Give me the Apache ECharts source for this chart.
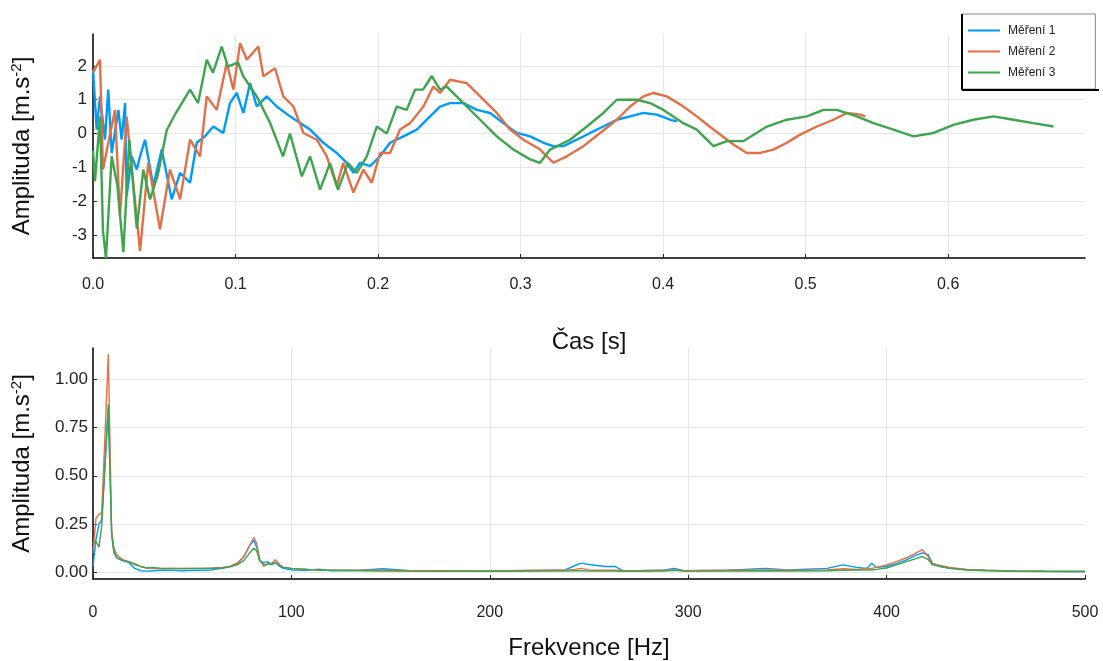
<!DOCTYPE html>
<html>
<head>
<meta charset="utf-8">
<script src="https://cdn.jsdelivr.net/npm/echarts@6/dist/echarts.min.js"></script>
<style>
  html, body { margin: 0; padding: 0; background: #fff; }
  #chart { width: 1103px; height: 661px; }
</style>
</head>
<body>
<div id="chart"></div>
<script>
// Time signals of three measurements (time in s, amplitude in m.s^-2)
const seriesNames = ['Měření 1', 'Měření 2', 'Měření 3'];
const seriesColors = ['#009AFA', '#E36F47', '#3EA44E'];

const time1 = [0, 0.0026, 0.0049, 0.0084, 0.0107, 0.0131, 0.0178, 0.0201, 0.0225, 0.0236, 0.0272, 0.0307, 0.033, 0.0365, 0.0423, 0.0482, 0.0552, 0.0611, 0.0681, 0.0728, 0.0786, 0.0844, 0.0914, 0.0961, 0.1008, 0.1055, 0.1102, 0.1149, 0.1219, 0.1289, 0.1382, 0.1453, 0.1523, 0.1616, 0.171, 0.178, 0.1827, 0.1874, 0.1944, 0.2014, 0.2084, 0.2178, 0.2272, 0.2365, 0.2435, 0.2505, 0.2599, 0.2693, 0.2786, 0.2879, 0.2973, 0.3067, 0.316, 0.323, 0.33, 0.3394, 0.3488, 0.3581, 0.3675, 0.3768, 0.3862, 0.3956, 0.4049, 0.4096];
const amp1 = [1.88, 0.12, 1.1, -0.18, 1.3, -0.57, 0.7, -0.18, 0.9, -1.84, -0.67, -1.06, -0.67, -0.18, -1.55, -0.47, -1.94, -1.16, -1.45, -0.27, -0.08, 0.21, 0.02, 0.9, 1.2, 0.61, 1.49, 0.8, 1.1, 0.8, 0.51, 0.31, 0.12, -0.27, -0.57, -0.86, -1.16, -0.86, -0.96, -0.67, -0.27, -0.08, 0.12, 0.51, 0.8, 0.9, 0.9, 0.7, 0.61, 0.31, 0.02, -0.08, -0.27, -0.37, -0.37, -0.18, 0.02, 0.21, 0.41, 0.51, 0.61, 0.56, 0.41, 0.36];

const time2 = [0, 0.0049, 0.007, 0.0154, 0.0189, 0.0236, 0.033, 0.0388, 0.047, 0.054, 0.0611, 0.0681, 0.0751, 0.0798, 0.0868, 0.0938, 0.0985, 0.1032, 0.1079, 0.116, 0.1195, 0.1277, 0.1335, 0.1406, 0.1476, 0.157, 0.164, 0.171, 0.1756, 0.1827, 0.1897, 0.1956, 0.2014, 0.2084, 0.2154, 0.2225, 0.2318, 0.2388, 0.2435, 0.2505, 0.2622, 0.2716, 0.2833, 0.2926, 0.302, 0.3137, 0.323, 0.3324, 0.3441, 0.3558, 0.3675, 0.3768, 0.3862, 0.3932, 0.4026, 0.4142, 0.4236, 0.4353, 0.4493, 0.4587, 0.4681, 0.4774, 0.4868, 0.4961, 0.5079, 0.5195, 0.5289, 0.5382, 0.5418];
const amp2 = [1.8, 2.18, -1.06, 0.7, -2.43, 0.5, -3.46, -0.86, -2.82, -1.06, -1.94, -0.18, -0.67, 1.1, 0.7, 2.08, 1.3, 2.67, 2.18, 2.57, 1.69, 1.93, 1.1, 0.8, 0.02, -0.18, -0.67, -1.55, -0.86, -1.74, -1.06, -1.45, -0.57, -0.57, 0.12, 0.31, 0.8, 1.39, 1.2, 1.59, 1.49, 1.1, 0.61, 0.12, -0.18, -0.47, -0.86, -0.67, -0.37, 0.02, 0.41, 0.8, 1.1, 1.2, 1.1, 0.8, 0.51, 0.12, -0.32, -0.57, -0.57, -0.47, -0.27, -0.03, 0.21, 0.41, 0.61, 0.56, 0.51];

const time3 = [0, 0.0014, 0.0049, 0.007, 0.0091, 0.0131, 0.017, 0.0213, 0.0255, 0.0307, 0.0353, 0.04, 0.0456, 0.0517, 0.058, 0.0681, 0.0737, 0.0798, 0.0842, 0.0903, 0.0947, 0.1018, 0.1053, 0.1149, 0.1242, 0.1333, 0.1382, 0.1465, 0.1523, 0.1593, 0.1663, 0.1719, 0.1789, 0.1851, 0.1921, 0.1991, 0.2061, 0.2131, 0.2201, 0.226, 0.2316, 0.2377, 0.2435, 0.2482, 0.2599, 0.2716, 0.2833, 0.2949, 0.3067, 0.3137, 0.3207, 0.3347, 0.3465, 0.3581, 0.3675, 0.3815, 0.3909, 0.4002, 0.4142, 0.4236, 0.4353, 0.4447, 0.4564, 0.4728, 0.4868, 0.5008, 0.5125, 0.5219, 0.5359, 0.5476, 0.5616, 0.5756, 0.5897, 0.6037, 0.6177, 0.6318, 0.6458, 0.6598, 0.6739];
const amp3 = [-0.5, -1.4, 0.5, -2.87, -3.67, -0.67, -1.5, -3.5, -0.18, -2.8, -1.06, -1.94, -1.2, 0.1, 0.6, 1.3, 0.9, 2.18, 1.8, 2.57, 1.98, 2.1, 1.7, 1.1, 0.32, -0.67, 0.0, -1.26, -0.67, -1.65, -0.87, -1.65, -0.87, -1.16, -0.67, 0.21, 0.0, 0.8, 0.7, 1.3, 1.3, 1.7, 1.3, 1.39, 0.9, 0.41, -0.08, -0.47, -0.76, -0.86, -0.47, -0.18, 0.21, 0.61, 1.0, 1.0, 0.9, 0.7, 0.31, 0.12, -0.37, -0.22, -0.22, 0.21, 0.41, 0.51, 0.7, 0.7, 0.51, 0.31, 0.12, -0.08, 0.02, 0.26, 0.41, 0.51, 0.41, 0.31, 0.21];

// Amplitude spectra (frequency in Hz)
const freq = [0, 1.5, 3, 4.4, 6, 7.7, 9.4, 10.5, 12, 15, 18, 21, 24, 27, 30, 35, 40, 45, 50, 55, 60, 65, 69, 73, 76, 79, 81, 82.5, 84, 86, 88, 90, 92, 94, 96, 100, 108, 114, 120, 135, 146, 160, 180, 200, 220, 238, 243, 246, 250, 254, 258, 263, 267, 275, 288, 293, 298, 320, 339, 350, 370, 378, 385, 390, 392.5, 395, 400, 405, 410, 414, 418, 421, 423, 427, 432, 440, 450, 465, 480, 500];
const spec1 = [0.03, 0.17, 0.25, 0.27, 0.55, 0.85, 0.2, 0.11, 0.075, 0.06, 0.05, 0.02, 0.008, 0.006, 0.008, 0.01, 0.01, 0.008, 0.01, 0.01, 0.012, 0.02, 0.03, 0.045, 0.08, 0.14, 0.165, 0.13, 0.06, 0.05, 0.055, 0.04, 0.05, 0.03, 0.02, 0.012, 0.01, 0.016, 0.008, 0.01, 0.018, 0.008, 0.006, 0.005, 0.008, 0.012, 0.035, 0.047, 0.04, 0.035, 0.03, 0.03, 0.008, 0.008, 0.012, 0.02, 0.008, 0.01, 0.02, 0.012, 0.02, 0.038, 0.025, 0.02, 0.047, 0.025, 0.03, 0.045, 0.064, 0.085, 0.1, 0.09, 0.047, 0.03, 0.02, 0.015, 0.01, 0.006, 0.005, 0.004];
const spec2 = [0.10, 0.28, 0.30, 0.31, 0.70, 1.13, 0.21, 0.13, 0.09, 0.065, 0.055, 0.045, 0.03, 0.022, 0.02, 0.018, 0.02, 0.018, 0.02, 0.02, 0.022, 0.025, 0.03, 0.05, 0.08, 0.14, 0.18, 0.15, 0.07, 0.03, 0.045, 0.045, 0.065, 0.04, 0.025, 0.02, 0.015, 0.012, 0.01, 0.01, 0.01, 0.008, 0.008, 0.006, 0.01, 0.01, 0.015, 0.02, 0.012, 0.01, 0.01, 0.01, 0.008, 0.008, 0.01, 0.012, 0.008, 0.01, 0.012, 0.01, 0.012, 0.018, 0.015, 0.02, 0.02, 0.025, 0.038, 0.055, 0.075, 0.095, 0.117, 0.08, 0.045, 0.035, 0.025, 0.015, 0.01, 0.006, 0.005, 0.004];
const spec3 = [0.15, 0.16, 0.13, 0.24, 0.55, 0.87, 0.2, 0.1, 0.075, 0.06, 0.055, 0.04, 0.03, 0.022, 0.025, 0.02, 0.02, 0.02, 0.02, 0.02, 0.02, 0.022, 0.028, 0.04, 0.06, 0.1, 0.125, 0.11, 0.06, 0.04, 0.04, 0.045, 0.05, 0.035, 0.025, 0.02, 0.015, 0.01, 0.01, 0.008, 0.006, 0.006, 0.005, 0.005, 0.006, 0.006, 0.008, 0.008, 0.006, 0.006, 0.006, 0.006, 0.005, 0.005, 0.006, 0.01, 0.006, 0.006, 0.008, 0.006, 0.008, 0.01, 0.012, 0.012, 0.012, 0.015, 0.022, 0.038, 0.055, 0.068, 0.081, 0.065, 0.04, 0.03, 0.02, 0.012, 0.008, 0.005, 0.004, 0.004];

function pairs(xs, ys) {
  const n = Math.min(xs.length, ys.length);
  const out = [];
  for (let i = 0; i < n; i++) out.push([xs[i], ys[i]]);
  return out;
}

const FONT = '"Liberation Sans", Arial, sans-serif';
const gridLine = { show: true, showMinLine: false, showMaxLine: false, lineStyle: { color: '#e6e6e6', width: 1 } };
const axisLineStyle = { show: true, onZero: false, lineStyle: { color: '#000', width: 1.5 } };
const tick = { show: true, inside: true, length: 4, lineStyle: { color: '#222', width: 1 } };
const ampName = '{n|Amplituda [m.s}{s|-2}{n|]}';
const ampRich = {
  n: { fontSize: 24, fontFamily: FONT, color: '#111' },
  s: { fontSize: 15, fontFamily: FONT, color: '#111', verticalAlign: 'top', padding: [0, 0, 12, 0] }
};

const chart = echarts.init(document.getElementById('chart'), null, { renderer: 'canvas' });
chart.setOption({
  animation: false,
  backgroundColor: '#fff',
  color: seriesColors,
  grid: [
    { left: 93, top: 34, width: 992, height: 224 },
    { left: 93, top: 348, width: 992, height: 231 }
  ],
  legend: {
    data: seriesNames,
    orient: 'vertical',
    left: 962,
    top: 14,
    icon: 'rect',
    itemWidth: 32,
    itemHeight: 2,
    itemGap: 0,
    padding: [6, 40, 6, 6],
    backgroundColor: '#fff',
    borderColor: '#8a8a8a',
    borderWidth: 1,
    borderRadius: 0,
    textStyle: { fontSize: 12, fontFamily: FONT, color: '#222', lineHeight: 21, padding: [0, 0, 0, 3] }
  },
  graphic: [
    { type: 'line', z: 200, shape: { x1: 962, y1: 14, x2: 962, y2: 90 }, style: { stroke: '#000', lineWidth: 2 } },
    { type: 'line', z: 200, shape: { x1: 962, y1: 90, x2: 1099, y2: 90 }, style: { stroke: '#000', lineWidth: 2 } }
  ],
  xAxis: [
    {
      type: 'value', gridIndex: 0, min: 0, max: 0.696,
      minInterval: 0.1, maxInterval: 0.1,
      name: 'Čas [s]', nameLocation: 'middle', nameGap: 72,
      nameTextStyle: { fontSize: 24, fontFamily: FONT, color: '#111' },
      axisLine: axisLineStyle, axisTick: tick, splitLine: gridLine,
      axisLabel: { fontSize: 16, fontFamily: FONT, color: '#222', margin: 19, showMaxLabel: false,
        formatter: v => v.toFixed(1) }
    },
    {
      type: 'value', gridIndex: 1, min: 0, max: 500, interval: 100,
      name: 'Frekvence [Hz]', nameLocation: 'middle', nameGap: 57,
      nameTextStyle: { fontSize: 24, fontFamily: FONT, color: '#111' },
      axisLine: axisLineStyle, axisTick: tick, splitLine: gridLine,
      axisLabel: { fontSize: 16, fontFamily: FONT, color: '#222', margin: 26,
        formatter: v => String(Math.round(v)) }
    }
  ],
  yAxis: [
    {
      type: 'value', gridIndex: 0, min: -3.67, max: 2.94,
      minInterval: 1, maxInterval: 1,
      name: ampName, nameLocation: 'middle', nameGap: 57, nameRotate: 90,
      nameTextStyle: { rich: ampRich },
      axisLine: axisLineStyle, axisTick: tick, splitLine: gridLine,
      axisLabel: { fontSize: 17, fontFamily: FONT, color: '#222', margin: 6,
        showMinLabel: false, showMaxLabel: false,
        formatter: v => String(Math.round(v)) }
    },
    {
      type: 'value', gridIndex: 1, min: -0.035, max: 1.162,
      minInterval: 0.25, maxInterval: 0.25,
      name: ampName, nameLocation: 'middle', nameGap: 57, nameRotate: 90,
      nameTextStyle: { rich: ampRich },
      axisLine: axisLineStyle, axisTick: tick, splitLine: gridLine,
      axisLabel: { fontSize: 17, fontFamily: FONT, color: '#222', margin: 5,
        showMinLabel: false, showMaxLabel: false,
        formatter: v => v.toFixed(2) }
    }
  ],
  series: [
    { name: seriesNames[0], type: 'line', xAxisIndex: 0, yAxisIndex: 0, symbol: 'none', data: pairs(time1, amp1), lineStyle: { width: 2.4 } },
    { name: seriesNames[1], type: 'line', xAxisIndex: 0, yAxisIndex: 0, symbol: 'none', data: pairs(time2, amp2), lineStyle: { width: 2.4 } },
    { name: seriesNames[2], type: 'line', xAxisIndex: 0, yAxisIndex: 0, symbol: 'none', data: pairs(time3, amp3), lineStyle: { width: 2.4 } },
    { name: seriesNames[0], type: 'line', xAxisIndex: 1, yAxisIndex: 1, symbol: 'none', data: pairs(freq, spec1), lineStyle: { width: 1.4 } },
    { name: seriesNames[1], type: 'line', xAxisIndex: 1, yAxisIndex: 1, symbol: 'none', data: pairs(freq, spec2), lineStyle: { width: 1.4 } },
    { name: seriesNames[2], type: 'line', xAxisIndex: 1, yAxisIndex: 1, symbol: 'none', data: pairs(freq, spec3), lineStyle: { width: 1.4 } }
  ]
});
</script>
</body>
</html>
